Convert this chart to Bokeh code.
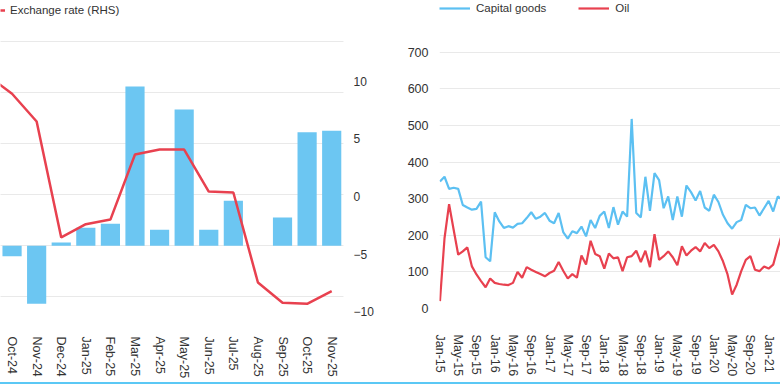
import math
from bokeh.plotting import figure
from bokeh.models import (Range1d, LinearAxis, FixedTicker, Grid,
                          Legend, LegendItem, GlobalInlineStyleSheet, ColumnDataSource)
from bokeh.layouts import row
from bokeh.embed import file_html
from bokeh.resources import INLINE

# ---------------- data: left panel ----------------
left_months = ["Sep-24", "Oct-24", "Nov-24", "Dec-24", "Jan-25", "Feb-25", "Mar-25", "Apr-25",
               "May-25", "Jun-25", "Jul-25", "Aug-25", "Sep-25", "Oct-25", "Nov-25"]
trade_balance = [float("nan"), -2.1, -11.4, 0.6, 3.5, 4.3, 31.2, 3.1, 26.7, 3.1, 8.8, 0.0, 5.5, 22.2, 22.5]
exchange_rate = [10.5, 8.9, 6.5, -3.55, -2.4, -2.0, 3.64, 4.07, 4.07, 0.43, 0.35, -7.45, -9.2, -9.3, -8.2]
rhs_ticks = [-10, -5, 0, 5, 10]
lhs_grid = [-10, 0, 10, 20, 30, 40]

# ---------------- data: right panel ----------------
capital_goods = [347, 360, 327, 330, 327, 283, 276, 270, 272, 292, 140, 129, 263, 238, 220, 225,
                 221, 231, 233, 247, 263, 245, 251, 261, 240, 233, 261, 209, 191, 211, 206, 224,
                 197, 242, 220, 253, 265, 220, 277, 229, 265, 251, 518, 261, 249, 360, 267, 370,
                 351, 274, 306, 242, 306, 251, 336, 318, 295, 321, 276, 267, 311, 291, 256, 233,
                 218, 236, 242, 283, 274, 276, 254, 274, 294, 265, 306, 297]
oil = [20, 192, 285, 215, 147, 156, 167, 115, 93, 75, 58, 82, 70, 67, 65, 64,
       70, 100, 84, 113, 106, 100, 94, 88, 97, 103, 127, 103, 82, 94, 84, 145,
       120, 185, 149, 143, 109, 150, 137, 140, 102, 140, 143, 158, 127, 158, 113, 203,
       133, 143, 156, 140, 118, 170, 145, 158, 168, 156, 179, 165, 174, 156, 129, 93,
       38, 65, 102, 133, 143, 106, 102, 115, 109, 120, 165, 206]
right_tick_labels = ["Jan-15", "May-15", "Sep-15", "Jan-16", "May-16", "Sep-16", "Jan-17",
                     "May-17", "Sep-17", "Jan-18", "May-18", "Sep-18", "Jan-19", "May-19",
                     "Sep-19", "Jan-20", "May-20", "Sep-20", "Jan-21"]
right_y_ticks = [0, 100, 200, 300, 400, 500, 600, 700]

FONT = "Liberation Sans"
TXT = "#333333"
GRID = "#e9e9e9"
BLUE = "#6cc6f2"
RED = "#e8414f"


def style_axis(ax, size="12.5px"):
    ax.axis_line_color = None
    ax.major_tick_line_color = None
    ax.minor_tick_line_color = None
    ax.major_tick_out = 0
    ax.major_tick_in = 0
    ax.minor_tick_out = 0
    ax.minor_tick_in = 0
    ax.major_label_text_font = FONT
    ax.major_label_text_font_size = size
    ax.major_label_text_color = TXT


# ---------------- left figure ----------------
lx = [i - 1 for i in range(len(left_months))]
lsrc = ColumnDataSource(dict(x=lx, bar=trade_balance, fx=exchange_rate))

# frame spans the full top so the legend (drawn inside the frame) is not clipped
p1 = figure(width=390, height=386, output_backend="svg", toolbar_location=None,
            x_range=Range1d(-0.47, 13.48), y_range=Range1d(-13.1, 48.04),
            y_axis_location=None,
            min_border_left=0, min_border_right=47, min_border_top=0, min_border_bottom=74)
p1.outline_line_color = None
p1.xgrid.visible = False
p1.add_layout(Grid(dimension=1, ticker=FixedTicker(ticks=lhs_grid),
                   grid_line_color=GRID, grid_line_width=1))
p1.extra_y_ranges = {"rhs": Range1d(-10.05, 16.98)}

p1.vbar(x="x", top="bar", bottom=0, width=0.78, source=lsrc, fill_color=BLUE, line_color=None)
fx_line = p1.line(x="x", y="fx", source=lsrc, line_color=RED, line_width=2.5, y_range_name="rhs")

rax = LinearAxis(y_range_name="rhs", ticker=FixedTicker(ticks=rhs_ticks))
rax.major_label_overrides = {t: (("\u2212" + str(abs(t))) if t < 0 else str(t)) for t in rhs_ticks}
style_axis(rax, "12px")
rax.major_label_standoff = 10
p1.add_layout(rax, "right")

xa1 = p1.xaxis[0]
xa1.ticker = FixedTicker(ticks=lx[1:])
xa1.major_label_overrides = {x: m for x, m in zip(lx, left_months)}
xa1.major_label_orientation = -math.pi / 2
style_axis(xa1)
xa1.major_label_standoff = 24

leg1 = Legend(items=[LegendItem(label="Exchange rate (RHS)", renderers=[fx_line])],
              location="top_left", orientation="horizontal", margin=0, padding=0,
              glyph_width=5, label_standoff=5, border_line_color=None,
              background_fill_alpha=0, label_text_font=FONT, label_text_font_size="11.5px",
              label_text_color=TXT)
p1.add_layout(leg1)

# ---------------- right figure ----------------
mx = list(range(len(capital_goods)))
rsrc = ColumnDataSource(dict(x=mx, cg=capital_goods, oil=oil))
p2 = figure(width=390, height=382, output_backend="svg", toolbar_location=None,
            x_range=Range1d(-0.1, 74.6), y_range=Range1d(0, 841.6),
            min_border_left=49, min_border_right=0, min_border_top=0, min_border_bottom=73)
p2.outline_line_color = None
p2.xgrid.visible = False
p2.ygrid.grid_line_color = GRID
cg_line = p2.line(x="x", y="cg", source=rsrc, line_color="#5cc0f2", line_width=2.2)
oil_line = p2.line(x="x", y="oil", source=rsrc, line_color=RED, line_width=2.2)

ya2 = p2.yaxis[0]
ya2.ticker = FixedTicker(ticks=right_y_ticks)
xa2 = p2.xaxis[0]
tick_pos = [4 * i for i in range(len(right_tick_labels))]
xa2.ticker = FixedTicker(ticks=tick_pos)
xa2.major_label_overrides = {t: l for t, l in zip(tick_pos, right_tick_labels)}
xa2.major_label_orientation = -math.pi / 2
style_axis(xa2)
style_axis(ya2)
xa2.major_label_standoff = 26
ya2.major_label_standoff = 11

leg2 = Legend(items=[LegendItem(label="Capital goods", renderers=[cg_line]),
                     LegendItem(label="Oil", renderers=[oil_line])],
              location="top_left", orientation="horizontal", margin=0, padding=0,
              glyph_width=31, glyph_height=16, label_height=16,
              label_standoff=6, spacing=32, border_line_color=None,
              background_fill_alpha=0, label_text_font=FONT, label_text_font_size="11.5px",
              label_text_color=TXT)
p2.add_layout(leg2)

layout = row(p1, p2)
layout.stylesheets = [GlobalInlineStyleSheet(css=(
    "html, body { margin: 0 !important; padding: 0 !important; }"
    "body::after { content: ''; position: fixed; left: 0; top: 382px; width: 780px;"
    " height: 2px; background: #5bc8f5; }"))]

open("out.html", "w").write(file_html(layout, INLINE))
